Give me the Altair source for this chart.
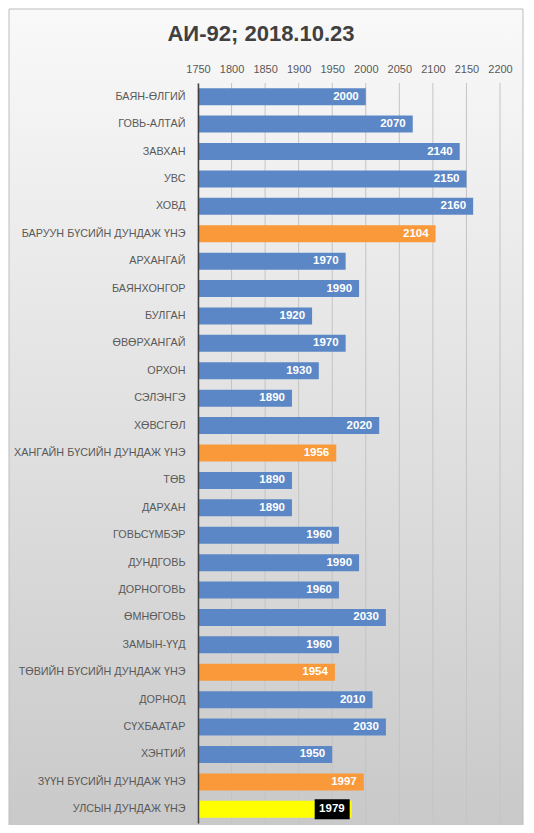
import altair as alt
import pandas as pd

names = [
    "БАЯН-ӨЛГИЙ", "ГОВЬ-АЛТАЙ", "ЗАВХАН", "УВС", "ХОВД",
    "БАРУУН БҮСИЙН ДУНДАЖ ҮНЭ",
    "АРХАНГАЙ", "БАЯНХОНГОР", "БУЛГАН", "ӨВӨРХАНГАЙ", "ОРХОН", "СЭЛЭНГЭ", "ХӨВСГӨЛ",
    "ХАНГАЙН БҮСИЙН ДУНДАЖ ҮНЭ",
    "ТӨВ", "ДАРХАН", "ГОВЬСҮМБЭР", "ДУНДГОВЬ", "ДОРНОГОВЬ", "ӨМНӨГОВЬ", "ЗАМЫН-ҮҮД",
    "ТӨВИЙН БҮСИЙН ДУНДАЖ ҮНЭ",
    "ДОРНОД", "СҮХБААТАР", "ХЭНТИЙ",
    "ЗҮҮН БҮСИЙН ДУНДАЖ ҮНЭ",
    "УЛСЫН ДУНДАЖ ҮНЭ",
]
values = [
    2000, 2070, 2140, 2150, 2160,
    2104,
    1970, 1990, 1920, 1970, 1930, 1890, 2020,
    1956,
    1890, 1890, 1960, 1990, 1960, 2030, 1960,
    1954,
    2010, 2030, 1950,
    1997,
    1979,
]
kinds = (["aimag"] * 5 + ["region"] + ["aimag"] * 7 + ["region"] + ["aimag"] * 7
         + ["region"] + ["aimag"] * 3 + ["region"] + ["nation"])
tick_values = [1750, 1800, 1850, 1900, 1950, 2000, 2050, 2100, 2150, 2200]

df = pd.DataFrame({"name": names, "v": values, "kind": kinds})
ticks_df = pd.DataFrame({"t": tick_values})

W, H = 302, 740
FONT = "Liberation Sans"

xscale = alt.Scale(domain=[1750, 2200], nice=False, zero=False)
yenc = alt.Y(
    "name:N", sort=names, title=None,
    scale=alt.Scale(paddingInner=0.38, paddingOuter=0.19),
    axis=alt.Axis(labelFont=FONT, labelFontSize=10.8, labelColor="#595959",
                  labelPadding=13, ticks=False, domainColor="#404040",
                  domainWidth=1.5, grid=False, zindex=1),
)
xaxis = alt.Axis(orient="top", values=tick_values, labelFont=FONT, labelFontSize=11,
                 labelColor="#595959", ticks=False, domain=False, grid=False,
                 labelPadding=9, format="d", zindex=1, labelOverlap=False,
                 labelFlush=False)

bg = alt.Chart(pd.DataFrame({"a": [0]})).mark_rect(
    fill=alt.Gradient(gradient="linear",
                      stops=[alt.GradientStop(color="#f9f9f9", offset=0),
                             alt.GradientStop(color="#c9c9c9", offset=1)],
                      x1=0, x2=0, y1=0, y2=1),
    stroke="#bdbdbd", strokeWidth=1, clip=False,
).encode(x=alt.value(-189), x2=alt.value(W + 23), y=alt.value(-74), y2=alt.value(H + 3))

grid = alt.Chart(ticks_df).mark_rule(color="#c4c4c4", strokeWidth=1).encode(
    x=alt.X("t:Q", scale=xscale, axis=xaxis, title=None)
)

color_scale = alt.Scale(domain=["aimag", "region", "nation"],
                        range=["#5B87C6", "#F9993A", "#FFFF00"])

bars = alt.Chart(df).mark_bar().encode(
    x=alt.X("v:Q", scale=xscale, axis=xaxis, title=None),
    x2=alt.datum(1750),
    y=yenc,
    color=alt.Color("kind:N", scale=color_scale, legend=None),
)

box = alt.Chart(df).transform_filter(alt.datum.kind == "nation").mark_bar(
    color="black", height=20, xOffset=-2, x2Offset=-37
).encode(
    x=alt.X("v:Q", scale=xscale, axis=xaxis, title=None),
    x2="v:Q",
    y=yenc,
)

labels = alt.Chart(df).mark_text(
    align="right", baseline="middle", dx=-7, color="white", fontWeight="bold",
    fontSize=11.5, font=FONT,
).encode(
    x=alt.X("v:Q", scale=xscale, axis=xaxis, title=None),
    y=yenc,
    text=alt.Text("v:Q", format="d"),
)

chart = alt.layer(bg, grid, bars, box, labels).properties(
    width=W, height=H,
    title=alt.Title("АИ-92; 2018.10.23", fontSize=22, fontWeight="bold", color="#404040",
                    font=FONT, anchor="middle", dx=-88, dy=37, offset=0),
    autosize=alt.AutoSizeParams(type="none"),
    padding={"left": 190, "top": 75, "right": 26, "bottom": 2},
    background="white",
).configure_view(stroke=None)

chart.save("out.html", embed_options={"renderer": "svg", "actions": False})
